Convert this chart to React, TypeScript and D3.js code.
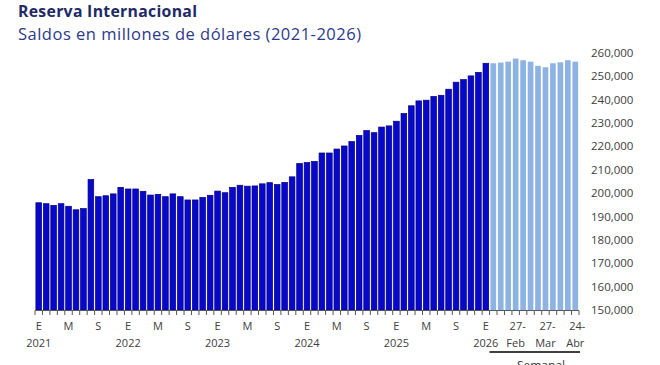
import React, { useRef, useEffect } from "react";
import * as d3 from "d3";

// Saldos mensuales, ene-2021 a ene-2026 (millones de dólares)
const monthlyValues = [
  195900, 195500, 194800, 195500, 194400, 192900, 193400, 205800, 198500, 198900, 199700, 202500,
  201800, 201800, 200800, 199200, 199500, 198500, 199700, 198500, 197100, 197100, 198200, 199100,
  200900, 200200, 202500, 203400, 203000, 203100, 204000, 204500, 203700, 204600, 207000, 212700,
  213100, 213600, 217200, 217200, 218900, 220200, 222100, 224700, 226800, 225900, 228300, 228800,
  230800, 234100, 237400, 239500, 239800, 241400, 241900, 244500, 247500, 248600, 250200, 251700,
  255600,
];

// Saldos semanales 2026
const weeklyDates = ["6-Feb", "13-Feb", "20-Feb", "27-Feb", "6-Mar", "13-Mar", "20-Mar", "27-Mar", "3-Abr", "10-Abr", "17-Abr", "24-Abr"];
const weeklyValues = [255600, 255900, 256300, 257600, 256900, 256300, 254500, 253900, 255600, 256000, 256900, 256300];
const weeklyShown = ["27-Feb", "27-Mar", "24-Abr"];

const years = [2021, 2022, 2023, 2024, 2025, 2026];
const monthInitials: Record<number, string> = { 0: "E", 4: "M", 8: "S" };
const yTicks = d3.range(150000, 260001, 10000);

const App = () => {
  const svgRef = useRef<SVGSVGElement>(null);

  useEffect(() => {
    const width = 660;
    const height = 365;
    const svg = d3.select(svgRef.current).attr("width", width).attr("height", height);
    svg.selectAll("*").remove();

    const bars = [
      ...monthlyValues.map((v, i) => ({ key: "m" + i, value: v, weekly: false, idx: i })),
      ...weeklyValues.map((v, i) => ({ key: weeklyDates[i], value: v, weekly: true, idx: i })),
    ];

    const x = d3.scaleBand().domain(bars.map((d) => d.key)).range([35, 579]).paddingInner(0.24).paddingOuter(0.12);
    const y = d3.scaleLinear().domain([150000, 260000]).range([310, 53]);

    const font = "'Open Sans', sans-serif";
    const grey = "#404040";

    // titles
    svg.append("text").attr("x", 18).attr("y", 17).text("Reserva Internacional")
      .attr("font-family", font).attr("font-weight", 700).attr("font-size", 15.8).attr("fill", "#1f2a66")
      .attr("textLength", 179).attr("lengthAdjust", "spacing");
    svg.append("text").attr("x", 18).attr("y", 39.5).text("Saldos en millones de dólares (2021-2026)")
      .attr("font-family", font).attr("font-size", 16.5).attr("fill", "#2b3a8c")
      .attr("textLength", 343).attr("lengthAdjust", "spacing");

    // bars
    svg.append("g").selectAll("rect").data(bars).join("rect")
      .attr("x", (d) => x(d.key)!)
      .attr("width", x.bandwidth())
      .attr("y", (d) => y(d.value))
      .attr("height", (d) => y(150000) - y(d.value))
      .attr("fill", (d) => (d.weekly ? "#8db3e2" : "#0808cc"))
      .attr("stroke", (d) => (d.weekly ? "none" : "#00007a"))
      .attr("stroke-width", 0.7);

    // x axis line + ticks between categories
    const step = x.step();
    const x0 = 35;
    const axis = svg.append("g").attr("stroke", "#595959");
    axis.append("line").attr("x1", x0).attr("x2", 579).attr("y1", 310.5).attr("y2", 310.5);
    axis.selectAll("line.tk").data(d3.range(bars.length + 1)).join("line").attr("class", "tk")
      .attr("x1", (i) => x0 + i * step).attr("x2", (i) => x0 + i * step)
      .attr("y1", 310.5).attr("y2", 315);

    // y labels on the right
    svg.append("g").selectAll("text").data(yTicks).join("text")
      .attr("x", 591).attr("y", (d) => y(d)).attr("dy", "0.35em")
      .text((d) => d3.format(",")(d))
      .attr("font-family", font).attr("font-size", 11.5).attr("fill", grey);

    // month letters & years
    const lbl = svg.append("g").attr("font-family", font).attr("font-size", 11).attr("fill", grey).attr("text-anchor", "middle");
    bars.filter((d) => !d.weekly && monthInitials[d.idx % 12] !== undefined).forEach((d) => {
      lbl.append("text").attr("x", x(d.key)! + x.bandwidth() / 2).attr("y", 330).text(monthInitials[d.idx % 12]);
    });
    years.forEach((yr, i) => {
      const key = "m" + i * 12;
      lbl.append("text").attr("x", x(key)! + x.bandwidth() / 2).attr("y", 347).text(yr);
    });
    weeklyShown.forEach((w) => {
      const [day, mon] = w.split("-");
      const cx = x(w)! + x.bandwidth() / 2;
      lbl.append("text").attr("x", cx + 2).attr("y", 330).text(day + "-");
      lbl.append("text").attr("x", cx).attr("y", 347).text(mon);
    });

    // weekly bracket
    svg.append("line").attr("x1", x(weeklyDates[0])! - 1).attr("x2", 580).attr("y1", 352).attr("y2", 352)
      .attr("stroke", "#404040").attr("stroke-width", 2);
    svg.append("text").attr("x", 541).attr("y", 370).attr("text-anchor", "middle").text("Semanal")
      .attr("font-family", font).attr("font-size", 12).attr("fill", grey);
  }, []);

  return (
    <div style={{ position: "absolute", left: 0, top: 0, background: "#fff" }}>
      <svg ref={svgRef} style={{ display: "block" }}></svg>
    </div>
  );
};

export default App;
